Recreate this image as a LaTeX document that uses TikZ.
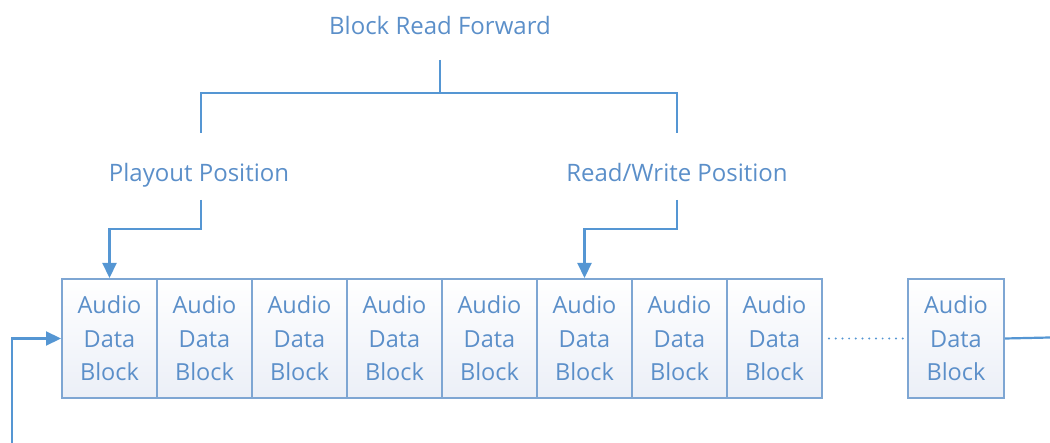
\documentclass[tikz,border=0pt]{standalone}
\usepackage{fontspec}
\setmainfont{Open Sans}
\usetikzlibrary{arrows.meta}
\definecolor{ln}{HTML}{5596D3}
\definecolor{tx}{HTML}{5B8FC9}
\definecolor{bd}{HTML}{7EA6D3}
\definecolor{bf}{HTML}{EBEFF7}
\begin{document}
\begin{tikzpicture}[x=1pt,y=-1pt,
  lbl/.style={text=tx,font=\fontsize{24}{24}\selectfont,inner sep=0pt,anchor=base},
  blk/.style={draw=bd,line width=2pt,top color=white,bottom color=bf,minimum width=95pt,minimum height=119pt,inner sep=0pt,anchor=north west,text=tx,font=\fontsize{23.5}{33.5}\selectfont,align=center},
  ln/.style={draw=ln,line width=2.2pt},
  arr/.style={ln,-{Triangle[length=15pt,width=14pt]}}]
\useasboundingbox (0,0) rectangle (1050,443);
\node[lbl] (brf) at (440,35) {Block Read Forward};
\node[lbl] (pp) at (199,182) {Playout Position};
\node[lbl] (rw) at (677,182) {Read/Write Position};
\foreach \i in {1,...,8}{
  \node[blk] (b\i) at ({61+(\i-1)*95},278) {Audio\\Data\\Block};
}
\node[blk,minimum width=96pt] (bn) at (907,278) {Audio\\Data\\Block};
\coordinate (t0) at (440,60);
\coordinate (tl) at (201,133);
\coordinate (tr) at (677,133);
\draw[ln] (t0) -- (440,93);
\draw[ln] (tl) -- (201,93) -- (677,93) -- (tr);
\coordinate (p0) at (201,200);
\coordinate (r0) at (677,200);
\draw[arr] (p0) -- (201,229) -| (b1.north);
\draw[arr] (r0) -- (677,229) -| (b6.north);
\draw[draw=ln,line width=2.2pt,line cap=round,dash pattern=on 0pt off 6.7pt,shorten <=6pt] (b8.east) -- (bn.west);
\coordinate (e) at (1050,337.5);
\draw[ln] (bn.east) -- (e);
\coordinate (f) at (12,443);
\draw[arr] (f) |- (b1.west);
\end{tikzpicture}
\end{document}
